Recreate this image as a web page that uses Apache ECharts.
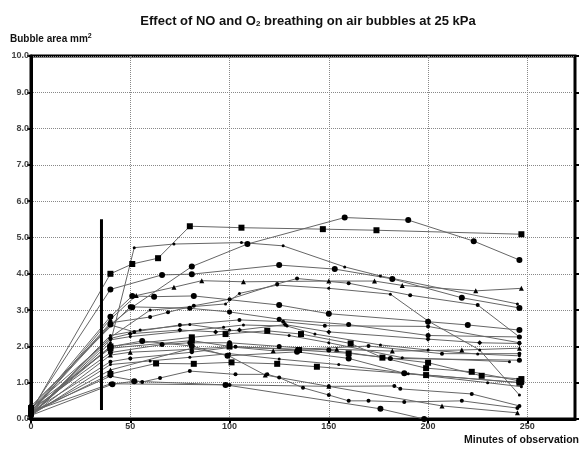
<!DOCTYPE html>
<html>
<head>
<meta charset="utf-8">
<script src="https://cdn.jsdelivr.net/npm/echarts@6/dist/echarts.min.js"></script>
<style>
  html, body { margin: 0; padding: 0; background: #fff; }
  #chart { width: 583px; height: 451px; }
</style>
</head>
<body>
<div id="chart"></div>
<script>
// x = minutes of observation, y = bubble area mm2
var xTicks = [0, 50, 100, 150, 200, 250];
var yTicks = [0, 1, 2, 3, 4, 5, 6, 7, 8, 9, 10];

// vertical bar (start of breathing)
var barLine = [[35.5, 0.25], [35.5, 5.5]];

// upper bubbles
var s01 = [[0,0.2],[40,4.0],[51,4.27],[64,4.43],[80,5.31],[106,5.27],[147,5.23],[174,5.2],[247,5.09]];
var s02 = [[0,0.3],[40,2.6],[51,3.08],[81,4.2],[109,4.82],[158,5.55],[190,5.48],[223,4.9],[246,4.38]];
var s03 = [[0,0.1],[40,2.1],[52,4.72],[72,4.82],[106,4.86],[127,4.77],[158,4.19],[176,3.94],[245,3.17]];
var s04 = [[0,0.25],[40,3.57],[66,3.97],[81,3.99],[125,4.24],[153,4.13],[182,3.86],[217,3.34],[246,3.06]];
var s05 = [[0,0.15],[40,2.75],[53,3.4],[72,3.63],[86,3.81],[107,3.78],[150,3.8],[173,3.8],[187,3.68],[224,3.53],[247,3.6]];
var s06 = [[0,0.2],[40,2.82],[51,3.39],[62,3.37],[82,3.39],[125,3.14],[150,2.9],[200,2.68],[220,2.59],[246,2.45]];
var s07 = [[0,0.1],[40,2.25],[60,3.0],[98,3.17],[105,3.46],[124,3.69],[150,3.6],[181,3.44],[200,2.7],[226,1.9],[246,0.66]];
var s08 = [[0,0.2],[40,2.65],[60,2.81],[69,2.94],[82,3.12],[100,3.3],[124,3.72],[134,3.87],[160,3.74],[191,3.41],[225,3.14],[246,2.26]];

// middle bubbles
var m01 = [[0,0.2],[40,2.59],[52,2.4],[75,2.59],[105,2.73],[127,2.68],[148,2.57],[200,2.55],[246,2.1]];
var m02 = [[0,0.1],[40,2.18],[50,2.27],[97,2.53],[107,2.59],[129,2.56],[143,2.34],[176,2.04],[200,1.9],[225,1.79],[246,1.74]];
var m03 = [[0,0.2],[40,2.0],[81,2.25],[98,2.34],[119,2.43],[136,2.34],[161,2.08],[177,1.69],[199,1.4],[222,1.3],[246,1.05]];
var m04 = [[0,0.3],[40,1.95],[81,2.16],[100,2.0],[135,1.9],[160,1.81],[200,1.55],[227,1.19],[247,1.1]];
var m05 = [[0,0.15],[40,1.99],[56,2.15],[81,2.01],[99,1.74],[134,1.85],[160,1.67],[188,1.26],[247,1.0]];
var m06 = [[0,0.1],[40,1.76],[50,1.84],[81,1.92],[100,1.99],[122,1.88],[154,1.92],[182,1.87],[217,1.9],[246,1.95]];
var m07 = [[0,0.2],[40,1.58],[50,1.67],[81,1.84],[103,1.99],[134,1.92],[170,2.01],[207,1.8],[246,1.8]];
var m08 = [[0,0.25],[40,1.83],[66,2.05],[80,2.1],[100,2.1],[125,2.0],[150,1.9],[181,1.67],[246,1.62]];
var m09 = [[0,0.1],[40,2.3],[55,2.45],[80,2.6],[100,2.45],[130,2.3],[150,2.1],[187,1.69],[241,1.58]];
var m10 = [[0,0.15],[40,1.24],[63,1.53],[82,1.52],[101,1.56],[124,1.52],[144,1.44],[199,1.21],[246,1.0]];
var m11 = [[0,0.3],[40,2.22],[50,2.35],[75,2.45],[93,2.4],[105,2.45],[128,2.6],[150,2.4],[200,2.2],[226,2.1],[246,2.08]];
var m12 = [[0,0.35],[50,3.09],[80,3.05],[100,2.95],[125,2.75],[160,2.6],[200,2.3],[246,2.26]];

// lower bubbles
var l01 = [[0,0.2],[40,1.18],[56,1.02],[65,1.13],[80,1.32],[103,1.23],[119,1.23],[125,1.14],[137,0.86],[150,0.66],[160,0.5],[170,0.5],[188,0.47],[217,0.5],[245,0.3]];
var l02 = [[0,0.1],[41,0.96],[52,1.04],[98,0.94],[176,0.28],[198,0]];
var l03 = [[0,0.2],[40,0.97],[100,0.94],[150,0.9],[183,0.91],[186,0.83],[222,0.69],[246,0.36]];
var l04 = [[0,0.1],[40,1.5],[60,1.6],[80,1.7],[100,1.8],[125,1.65],[155,1.5],[190,1.25],[230,1.0],[247,0.89]];
var l05 = [[0,0.15],[40,1.35],[81,1.95],[99,1.76],[118,1.21],[150,0.9],[207,0.36],[245,0.17]];

var lines = [
  [s01, 'rect', 6], [s02, 'circle', 6], [s03, 'circle', 3], [s04, 'circle', 6],
  [s05, 'triangle', 5], [s06, 'circle', 6], [s07, 'circle', 3], [s08, 'circle', 4],
  [m01, 'circle', 4], [m02, 'circle', 3], [m03, 'rect', 6], [m04, 'rect', 6],
  [m05, 'circle', 6], [m06, 'triangle', 5], [m07, 'circle', 4], [m08, 'circle', 5],
  [m09, 'circle', 3], [m10, 'rect', 6], [m11, 'diamond', 5], [m12, 'circle', 5],
  [l01, 'circle', 4], [l02, 'circle', 6], [l03, 'circle', 4], [l04, 'circle', 3], [l05, 'triangle', 5]
];

var series = lines.map(function (l) {
  return {
    type: 'line',
    data: l[0],
    symbol: l[1],
    symbolSize: l[2],
    showAllSymbol: true,
    itemStyle: { color: '#000' },
    lineStyle: { color: '#666', width: 1 },
    animation: false,
    z: 3
  };
});

series.push({
  type: 'line',
  data: barLine,
  symbol: 'none',
  lineStyle: { color: '#000', width: 3 },
  animation: false,
  z: 4
});

var font = 'Liberation Sans, Arial, sans-serif';

var myChart = echarts.init(document.getElementById('chart'));
var option = {
  backgroundColor: '#fff',
  title: {
    text: 'Effect of NO and O{sub|2} breathing on air bubbles at 25 kPa',
    left: 303,
    textAlign: 'center',
    top: 9,
    textStyle: {
      fontFamily: font, fontSize: 13, fontWeight: 'bold', color: '#111',
      rich: { sub: { fontFamily: font, fontSize: 8, fontWeight: 'bold', verticalAlign: 'bottom', padding: [6, 0, 0, 0], color: '#111' } }
    }
  },
  graphic: [
    {
      type: 'text', left: 10, top: 33,
      style: {
        text: 'Bubble area mm{sup|2}',
        font: 'bold 10px ' + font, fill: '#111',
        rich: { sup: { font: 'bold 7px ' + font, fill: '#111', verticalAlign: 'top', padding: [0, 0, 6, 0] } }
      }
    },
    {
      type: 'text', right: 4, top: 435,
      style: { text: 'Minutes of observation', font: 'bold 10.5px ' + font, fill: '#111' }
    }
  ],
  grid: { left: 31, right: 8, top: 56, bottom: 32, show: true, borderColor: '#000', borderWidth: 3, backgroundColor: 'transparent' },
  xAxis: {
    type: 'value', min: 0, max: 274, interval: 50,
    axisLine: { show: true, lineStyle: { color: '#000', width: 3 } },
    axisTick: { show: true, length: 4, lineStyle: { color: '#000', width: 2 } },
    axisLabel: { fontFamily: font, fontSize: 9, fontWeight: 'bold', color: '#333', margin: 3, showMaxLabel: false },
    splitLine: { show: true, lineStyle: { color: '#888', type: [1, 1], width: 1 } }
  },
  yAxis: [
    {
      type: 'value', min: 0, max: 10, interval: 1,
      axisLine: { show: true, lineStyle: { color: '#000', width: 3 } },
      axisTick: { show: true, length: 4, lineStyle: { color: '#000', width: 2 } },
      axisLabel: { fontFamily: font, fontSize: 9, fontWeight: 'bold', color: '#444', margin: 2,
        formatter: function (v) { return v.toFixed(1); } },
      splitLine: { show: true, lineStyle: { color: '#888', type: [1, 1], width: 1 } }
    },
    {
      type: 'value', min: 0, max: 10, interval: 1, position: 'right',
      axisLine: { show: true, lineStyle: { color: '#000', width: 2 } },
      axisTick: { show: true, length: 4, lineStyle: { color: '#000', width: 2 } },
      axisLabel: { show: false },
      splitLine: { show: false }
    }
  ],
  series: series
};
myChart.setOption(option);
</script>
</body>
</html>
